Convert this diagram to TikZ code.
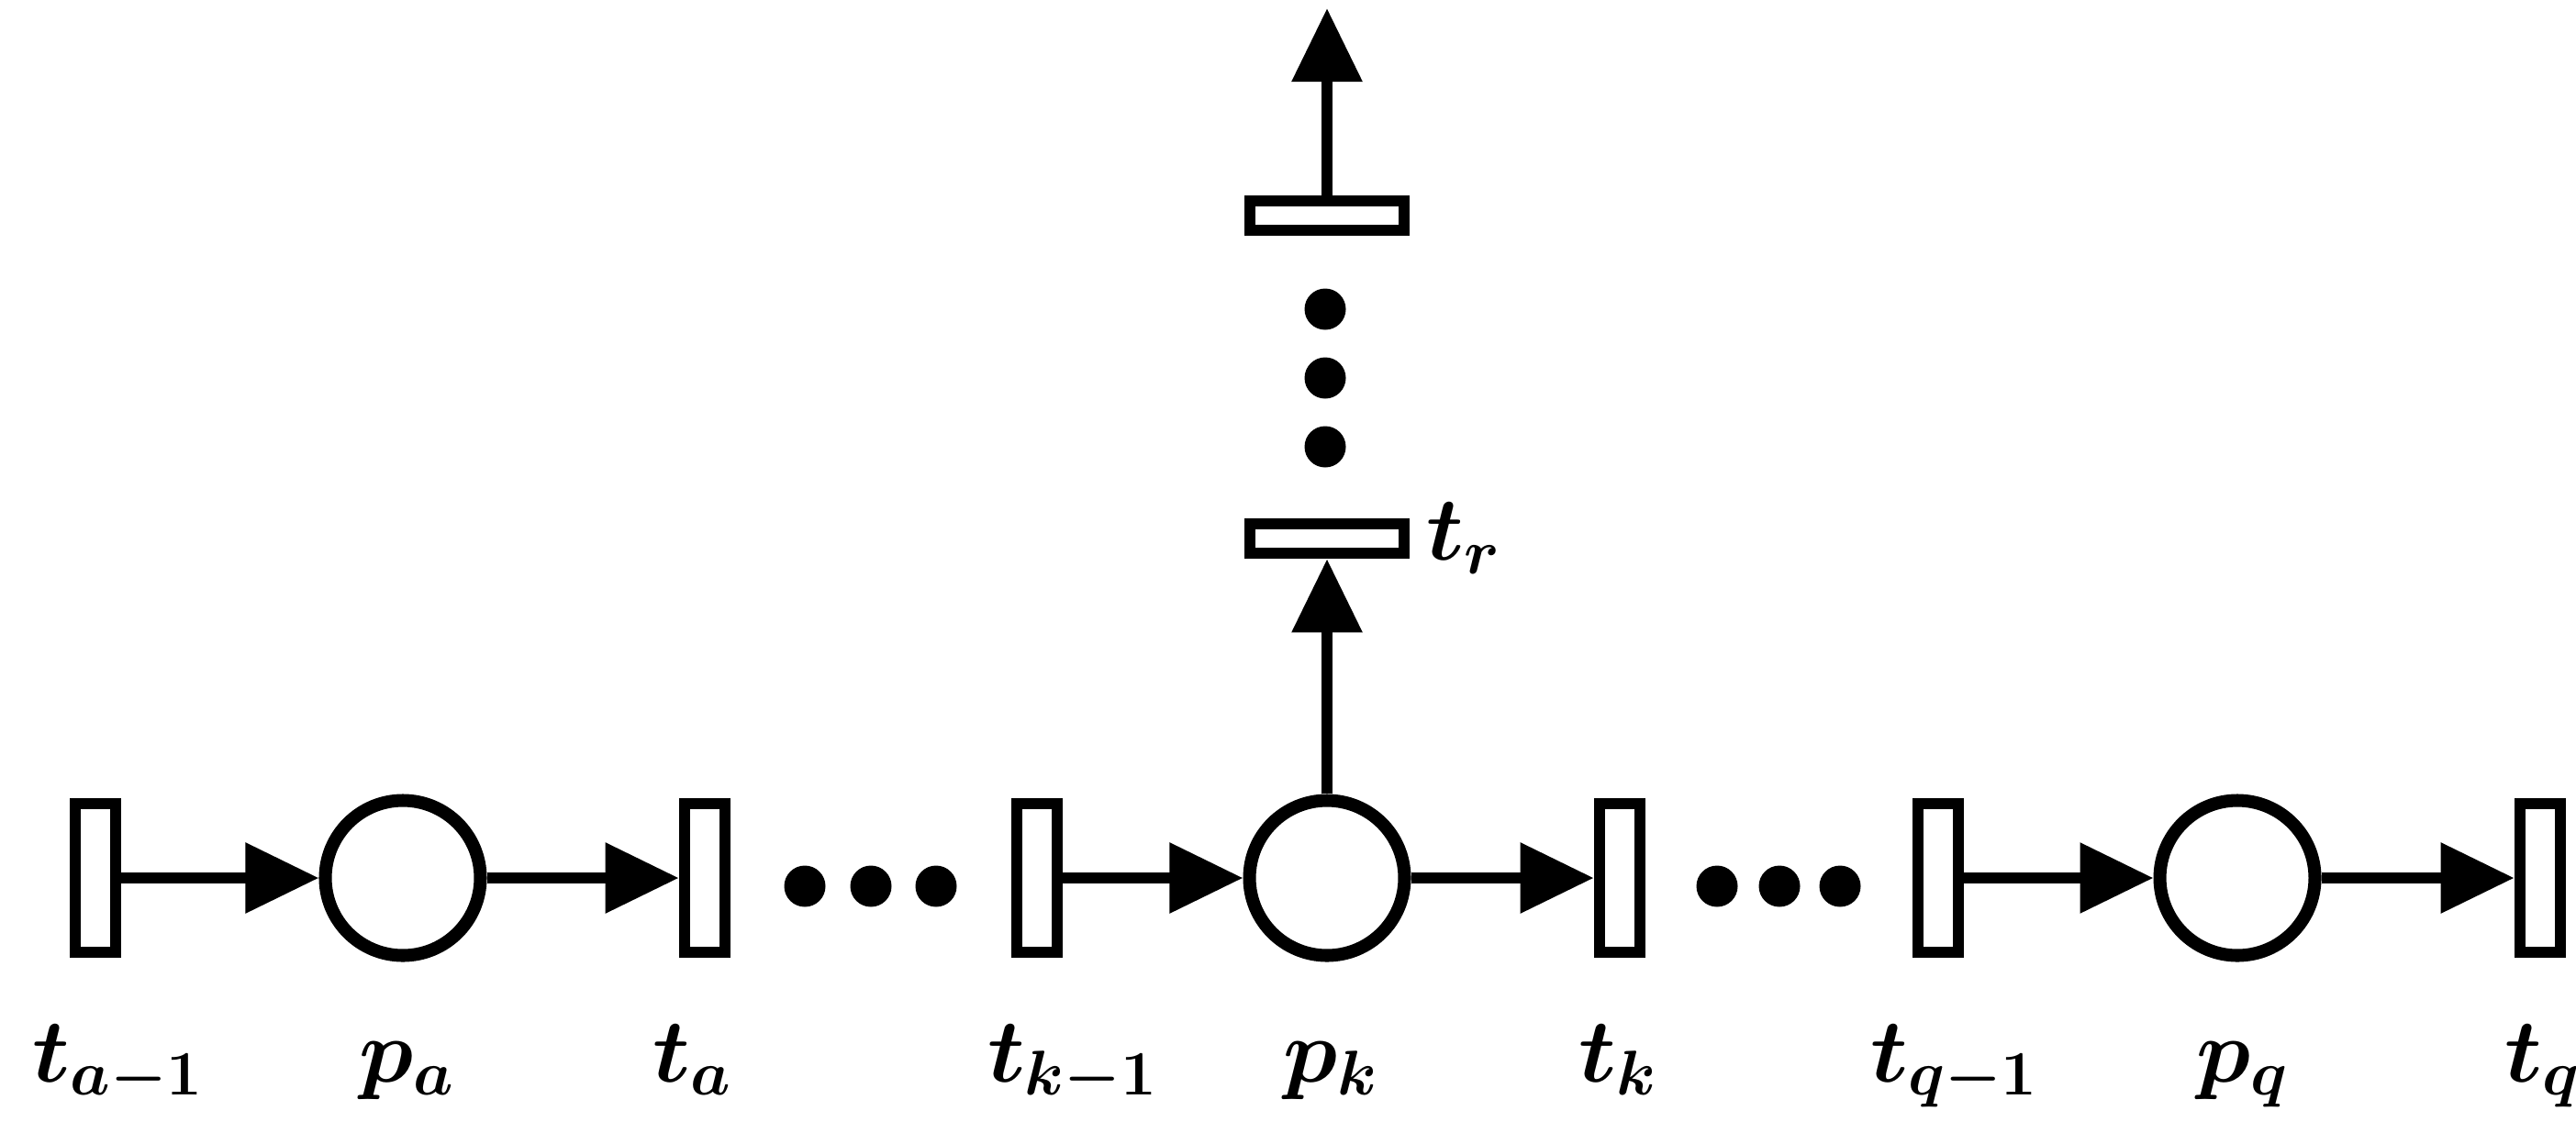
\documentclass[tikz,border=0pt]{standalone}
\usepackage{fix-cm}
\usetikzlibrary{positioning,arrows.meta}

\begin{document}
\begin{tikzpicture}[
  line width=3.6pt,
  place/.style={draw,circle,line width=4pt,minimum size=16.9mm,inner sep=0pt},
  trans/.style={draw,rectangle,minimum width=4.4mm,minimum height=16.2mm,inner sep=0pt},
  htrans/.style={draw,rectangle,minimum width=16.8mm,minimum height=3.2mm,inner sep=0pt},
  dot/.style={circle,fill,minimum size=4.5mm,inner sep=0pt},
  lbl/.style={inner sep=0pt,font=\boldmath\fontsize{28}{32}\selectfont},
  arc/.style={-{Triangle[length=8mm,width=7.4mm]}}]
\useasboundingbox (0,0) rectangle (28.07,12.34);
% main chain
\node[trans] (ta1) at (1.04,2.77) {};
\node[place] (pa) at (4.39,2.77) {};
\node[trans] (ta) at (7.68,2.77) {};
\node[dot] (d1) at (8.77,2.68) {};
\node[dot] (d2) at (9.49,2.68) {};
\node[dot] (d3) at (10.20,2.68) {};
\node[trans] (tk1) at (11.30,2.77) {};
\node[place] (pk) at (14.46,2.77) {};
\node[trans] (tk) at (17.65,2.77) {};
\node[dot] (d4) at (18.71,2.68) {};
\node[dot] (d5) at (19.39,2.68) {};
\node[dot] (d6) at (20.05,2.68) {};
\node[trans] (tq1) at (21.12,2.77) {};
\node[place] (pq) at (24.38,2.77) {};
\node[trans] (tq) at (27.68,2.77) {};
% branch above p_k
\node[htrans] (tr) at (14.46,6.47) {};
\node[dot] (v1) at (14.44,7.47) {};
\node[dot] (v2) at (14.44,8.22) {};
\node[dot] (v3) at (14.44,8.97) {};
\node[htrans] (ttop) at (14.46,9.99) {};
\coordinate (out) at (14.46,12.25);
% labels
\node[lbl,anchor=base] (lta1) at (1.29,0.55) {$t_{a-1}$};
\node[lbl,anchor=base] (lpa) at (4.44,0.55) {$p_a$};
\node[lbl,anchor=base] (lta) at (7.55,0.55) {$t_a$};
\node[lbl,anchor=base] (ltk1) at (11.69,0.55) {$t_{k-1}$};
\node[lbl,anchor=base] (lpk) at (14.50,0.55) {$p_k$};
\node[lbl,anchor=base] (ltk) at (17.63,0.55) {$t_k$};
\node[lbl,anchor=base] (ltq1) at (21.30,0.55) {$t_{q-1}$};
\node[lbl,anchor=base] (lpq) at (24.44,0.55) {$p_q$};
\node[lbl,anchor=base] (ltq) at (27.71,0.55) {$t_q$};
\node[lbl,right=1.2mm of tr] (ltr) {$t_r$};
% arcs
\draw[arc] (ta1) -- (pa);
\draw[arc] (pa) -- (ta);
\draw[arc] (tk1) -- (pk);
\draw[arc] (pk) -- (tk);
\draw[arc] (tq1) -- (pq);
\draw[arc] (pq) -- (tq);
\draw[arc] (pk) -- (tr);
\draw[arc] (ttop) -- (out);
\end{tikzpicture}
\end{document}
